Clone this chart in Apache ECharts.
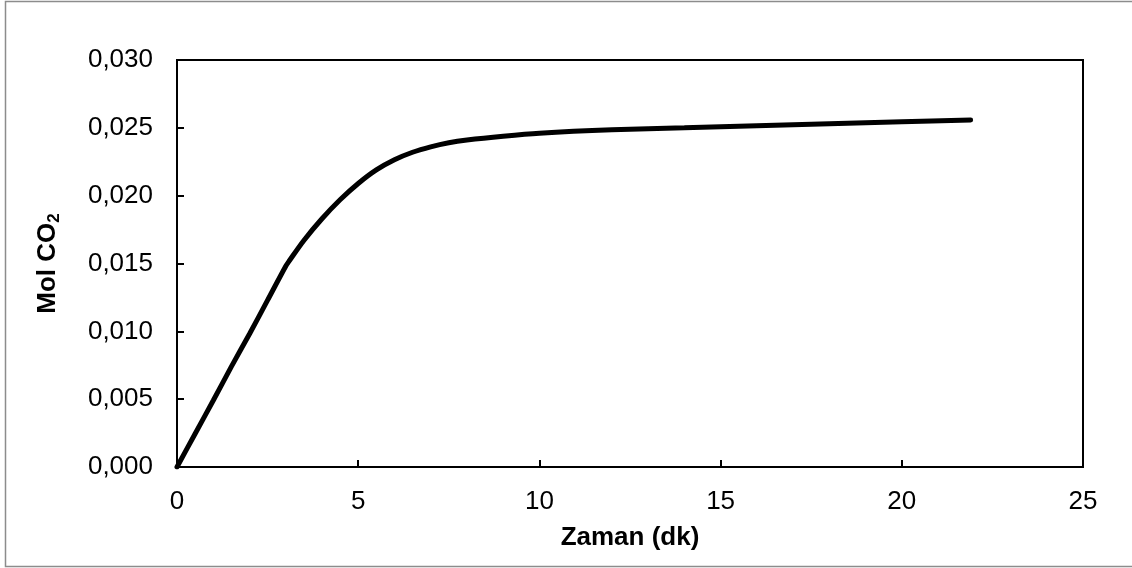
<!DOCTYPE html>
<html>
<head>
<meta charset="utf-8">
<script src="https://cdn.jsdelivr.net/npm/echarts@6/dist/echarts.min.js"></script>
<style>
html,body{margin:0;padding:0;background:#fff;}
#chart{width:1132px;height:568px;}
</style>
</head>
<body>
<div id="chart"></div>
<script>
// Time (minutes)
var timeMin = [0, 0.5, 1, 1.5, 2, 2.5, 3, 3.1, 3.5, 4, 4.5, 5, 5.5, 6, 6.5, 7, 7.5, 8, 9, 10, 12, 14, 16, 18, 20, 21.9];
// Mol CO2
var molCO2 = [0, 0.00245, 0.0049, 0.0074, 0.0098, 0.0123, 0.0148, 0.0152, 0.0167, 0.0183, 0.0197, 0.0209, 0.0219, 0.02265, 0.0232, 0.0236, 0.0239, 0.0241, 0.02438, 0.0246, 0.02485, 0.0250, 0.02515, 0.0253, 0.02545, 0.02558];
var xAxisTitle = 'Zaman (dk)';
var yAxisTitle = 'Mol CO';
var yAxisSub = '2';

var points = timeMin.map(function (t, i) { return [t, molCO2[i]]; });

var chart = echarts.init(document.getElementById('chart'), null, {renderer: 'canvas'});
var font = '"Liberation Sans", Arial, sans-serif';
chart.setOption({
  animation: false,
  backgroundColor: '#fff',
  graphic: [{
    type: 'rect',
    shape: {x: 5.5, y: 1.5, width: 1200, height: 565},
    style: {fill: 'none', stroke: '#8c8c8c', lineWidth: 1.5},
    silent: true
  }],
  grid: {
    left: 177, right: 49, top: 60, bottom: 101,
    show: true, borderColor: '#000', borderWidth: 2, backgroundColor: 'transparent'
  },
  xAxis: {
    type: 'value', min: 0, max: 25, interval: 5,
    name: xAxisTitle, nameLocation: 'middle', nameGap: 58,
    nameTextStyle: {fontFamily: font, fontSize: 26, fontWeight: 'bold', color: '#000'},
    axisLine: {show: true, lineStyle: {color: '#000', width: 2}},
    axisTick: {show: true, inside: true, length: 7, lineStyle: {color: '#000', width: 2}},
    axisLabel: {fontFamily: font, fontSize: 26, color: '#000', margin: 22},
    splitLine: {show: false}
  },
  yAxis: {
    type: 'value', min: 0, max: 0.03, interval: 0.005,
    name: '{m|' + yAxisTitle + '}{s|' + yAxisSub + '}', nameLocation: 'middle', nameGap: 114, nameRotate: 90,
    nameTextStyle: {
      rich: {
        m: {fontFamily: font, fontSize: 26, fontWeight: 'bold', color: '#000'},
        s: {fontFamily: font, fontSize: 17, fontWeight: 'bold', color: '#000', padding: [14, 0, 0, 0]}
      }
    },
    axisLine: {show: true, lineStyle: {color: '#000', width: 2}},
    axisTick: {show: true, inside: true, length: 7, lineStyle: {color: '#000', width: 2}},
    axisLabel: {
      fontFamily: font, fontSize: 26, color: '#000', margin: 24,
      formatter: function (v) { return v.toFixed(3).replace('.', ','); }
    },
    splitLine: {show: false}
  },
  series: [{
    type: 'line',
    data: points,
    smooth: 0.3,
    showSymbol: false,
    symbol: 'none',
    lineStyle: {color: '#000', width: 5, cap: 'round'},
    itemStyle: {color: '#000'}
  }]
});
</script>
</body>
</html>
